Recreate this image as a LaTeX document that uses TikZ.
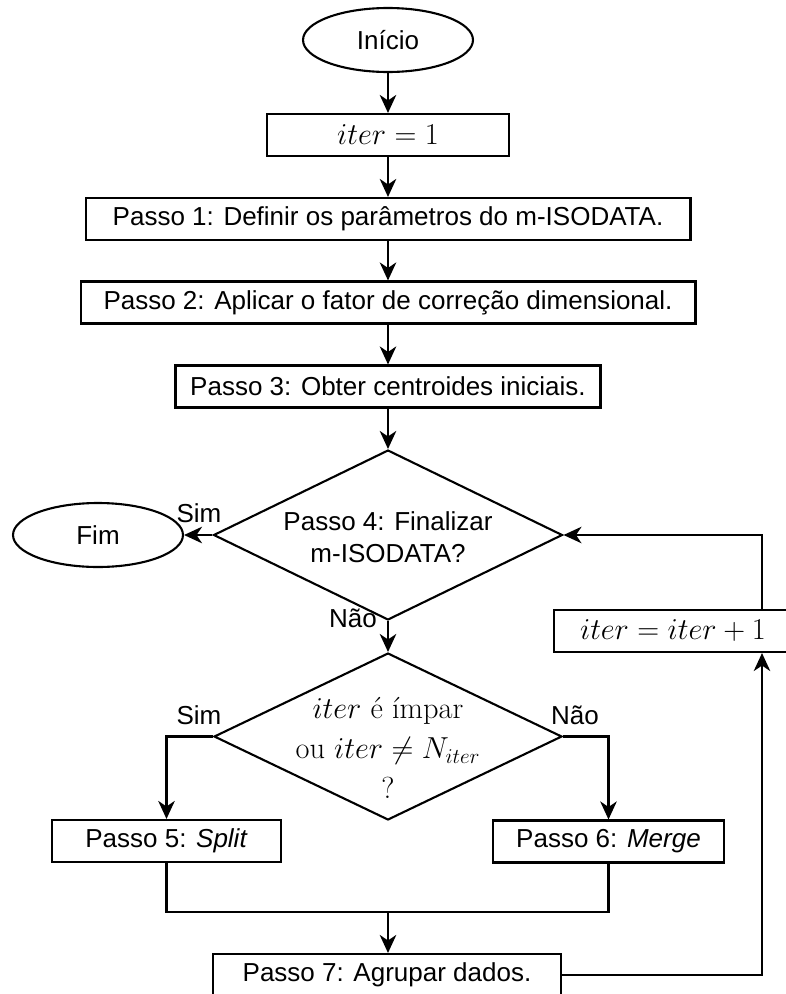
\documentclass[tikz,border=0pt]{standalone}
\usepackage{amsmath,amssymb}
\usepackage{fontspec}
\setsansfont{Liberation Sans}
\usetikzlibrary{arrows.meta,shapes.geometric}

\begin{document}
\begin{tikzpicture}[->,line width=1.2pt,>={Stealth[length=0.36cm,width=0.33cm,inset=0.11cm]},x=0.02cm,y=-0.02cm]
    \tikzstyle{box}=[draw, rectangle, minimum height=0.84cm, inner sep=0pt, font=\sffamily\fontsize{14.8}{18}\selectfont]
    \tikzstyle{mathbox}=[box, font=\fontsize{17.3}{20}\selectfont]
    \tikzstyle{term}=[draw, ellipse, minimum width=3.4cm, minimum height=1.28cm, inner sep=0pt, font=\sffamily\fontsize{14.8}{18}\selectfont]
    \tikzstyle{decision}=[draw, diamond, inner sep=0pt]
    \tikzstyle{lbl}=[font=\sffamily\fontsize{14.8}{18}\selectfont]

    \useasboundingbox (0,0) rectangle (786,994);

    \node[term] (ini) at (388,40) {Início};
    \node[mathbox, minimum width=4.84cm] (it1) at (388,135) {$iter=1$};
    \node[box, minimum width=12.1cm] (p1) at (388,219) {Passo 1: Definir os parâmetros do m-ISODATA.};
    \node[box, minimum width=12.3cm] (p2) at (388,302.5) {Passo 2: Aplicar o fator de correção dimensional.};
    \node[box, minimum width=8.5cm] (p3) at (388,386.5) {Passo 3: Obter centroides iniciais.};
    \node[decision, minimum width=6.98cm, minimum height=3.4cm] (d1) at (388,535) {};
    \node[lbl, align=center] (d1t) at (388,537) {Passo 4: Finalizar\\m-ISODATA?};
    \node[term] (fim) at (98,535) {Fim};
    \node[mathbox, minimum width=4.76cm] (inc) at (673,631) {$iter=iter+1$};
    \node[decision, minimum width=6.96cm, minimum height=3.34cm] (d2) at (388,736.5) {};
    \node[align=center, font=\fontsize{17.3}{23}\selectfont] (d2t) at (388,748) {$iter$ é ímpar\\ou $iter \neq N_{iter}$\\?};
    \node[box, minimum width=4.58cm] (p5) at (166.5,841) {Passo 5: \textit{Split}};
    \node[box, minimum width=4.62cm] (p6) at (608.5,841.5) {Passo 6: \textit{Merge}};
    \node[box, minimum width=6.96cm] (p7) at (387,975) {Passo 7: Agrupar dados.};

    \node[lbl] (s1) at (199,513) {Sim};
    \node[lbl] (n1) at (353,618) {Não};
    \node[lbl] (s2) at (199,715) {Sim};
    \node[lbl] (n2) at (575,715) {Não};

    \coordinate (loop) at (762,0);
    \coordinate (mg) at (388,912);

    \path
     (ini) edge (it1)
     (it1) edge (p1)
     (p1) edge (p2)
     (p2) edge (p3)
     (p3) edge (d1)
     (d1) edge (fim)
     (d1) edge (d2)
     ;
    \draw (d2.west) -| (p5.north);
    \draw (d2.east) -| (p6.north);
    \draw[-] (p5.south) |- (mg) -| (p6.south);
    \draw (mg) -- (mg |- p7.north);
    \draw (p7.east) -| (inc.south -| loop);
    \draw (inc.north -| loop) |- (d1.east);
\end{tikzpicture}
\end{document}
